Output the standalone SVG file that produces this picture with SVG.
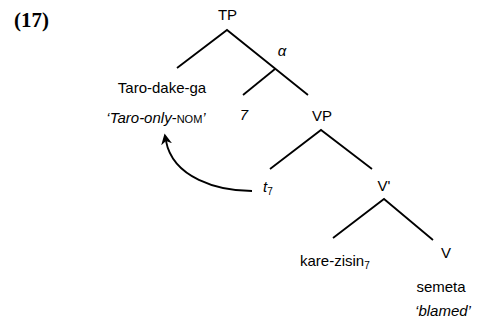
<svg xmlns="http://www.w3.org/2000/svg" width="481" height="328" viewBox="0 0 481 328">
<style>
.t{font-family:"Liberation Sans",Arial,sans-serif;font-size:15px;fill:#000}
.i{font-style:italic}
.e{stroke:#000;stroke-width:1.8;fill:none;stroke-linecap:butt}
</style>
<defs>
<marker id="ah" viewBox="0 0 10 10" refX="3" refY="5" markerWidth="11" markerHeight="11" markerUnits="userSpaceOnUse" orient="auto">
<path d="M0,0 L10,5 L0,10 L3,5 z" fill="#000"/>
</marker>
</defs>
<rect width="481" height="328" fill="#fff"/>
<text x="14" y="27" font-family="'Liberation Serif','Times New Roman',serif" font-size="21" font-weight="bold">(17)</text>
<g id="connectors">
<path class="e" d="M177,68 L227,30 L308,95"/>
<path class="e" d="M243,95 L275,69"/>
<path class="e" d="M270,169 L321,130 L372,169"/>
<path class="e" d="M333,238 L384,199 L433,240"/>
<path class="e" d="M252,191 C218,191 173,178 166,141" marker-end="url(#ah)"/>
</g>
<g id="TP"><text class="t" x="227.5" y="20" text-anchor="middle" font-size="16">TP</text></g>
<g id="alpha"><text class="t i" x="282" y="56" text-anchor="middle">α</text></g>
<g id="Taro"><text class="t" x="162" y="93" text-anchor="middle">Taro-dake-ga</text>
<text class="t" x="156" y="123" text-anchor="middle"><tspan class="i">‘Taro-only</tspan>-<tspan font-size="11">NOM</tspan><tspan class="i">’</tspan></text></g>
<g id="seven"><text class="t i" x="244" y="120" text-anchor="middle">7</text></g>
<g id="VP"><text class="t" x="322" y="121" text-anchor="middle" font-size="16">VP</text></g>
<g id="trace"><text class="t" x="263" y="192"><tspan class="i">t</tspan><tspan font-size="10" dy="3">7</tspan></text></g>
<g id="Vbar"><text class="t" x="384" y="191" text-anchor="middle" font-size="16">V'</text></g>
<g id="karezisin"><text class="t" x="300" y="266" font-size="16">kare-zisin<tspan font-size="10" dy="3">7</tspan></text></g>
<g id="V"><text class="t" x="446" y="258" text-anchor="middle" font-size="16">V</text>
<text class="t" x="441" y="292" text-anchor="middle">semeta</text>
<text class="t i" x="443" y="316" text-anchor="middle">‘blamed’</text></g>
</svg>
